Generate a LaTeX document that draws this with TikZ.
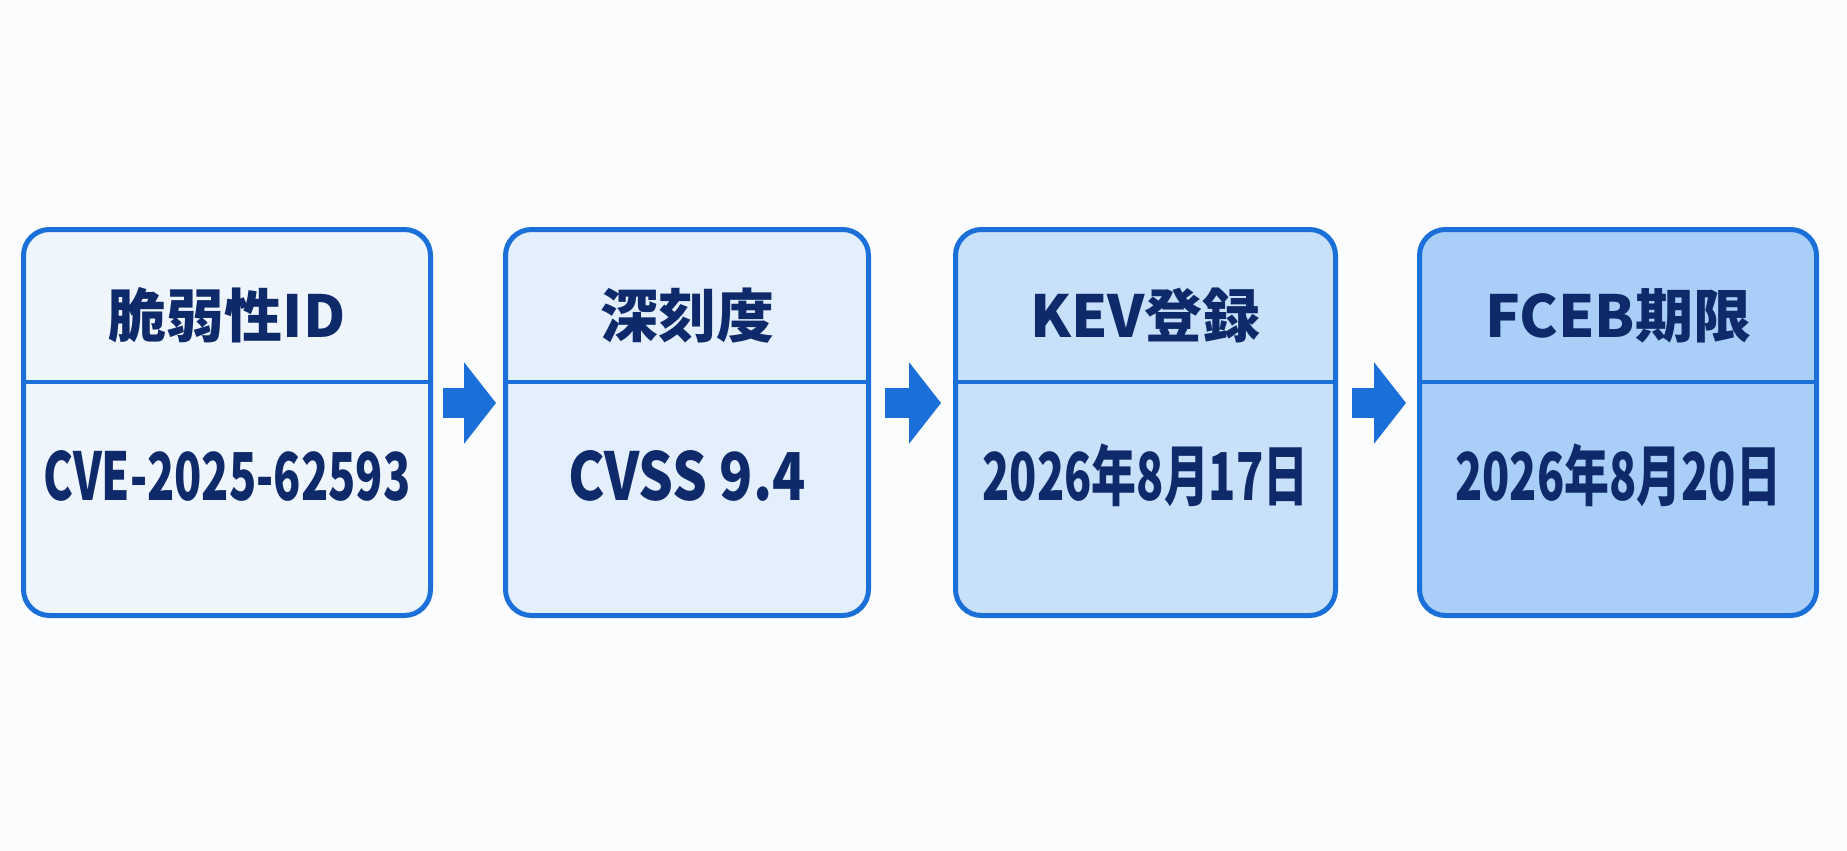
\documentclass[tikz,border=0pt]{standalone}
\usepackage{fontspec}
\setmainfont{Noto Sans CJK JP}
\newfontfamily\valfont{Noto Sans CJK JP}[FakeStretch=0.68]
\newfontfamily\valfontw{Noto Sans CJK JP}[FakeStretch=0.83]
\usetikzlibrary{arrows.meta}
\definecolor{bg}{HTML}{FBFCFE}
\definecolor{edge}{HTML}{1A6FD8}
\definecolor{ink}{HTML}{0F2A6A}
\definecolor{fa}{HTML}{EEF5FD}
\definecolor{fb}{HTML}{E3EFFC}
\definecolor{fc}{HTML}{C8E0FA}
\definecolor{fd}{HTML}{A9CFF8}
\begin{document}
\begin{tikzpicture}[x=1pt,y=-1pt,
  card/.style={draw=edge, line width=5pt, rounded corners=26pt, minimum height=386pt, inner sep=0pt},
  divider/.style={draw=edge, line width=4pt},
  head/.style={text=ink, font=\bfseries\fontsize{58}{60}\selectfont, anchor=base, inner sep=0pt},
  val/.style={text=ink, font=\valfont\bfseries\fontsize{66}{70}\selectfont, anchor=base, inner sep=0pt},
  valw/.style={val, font=\valfontw\bfseries\fontsize{66}{70}\selectfont},
  flow/.style={draw=edge, line width=30pt, -{Triangle[length=32pt,width=80pt]}}]
\fill[bg] (0,0) rectangle (1847,851);
\useasboundingbox (0,0) rectangle (1847,851);
% cards
\node[card, fill=fa, minimum width=407pt] (b1) at (227,422.5) {};
\node[card, fill=fb, minimum width=363pt] (b2) at (687,422.5) {};
\node[card, fill=fc, minimum width=380pt] (b3) at (1145.5,422.5) {};
\node[card, fill=fd, minimum width=397pt] (b4) at (1618,422.5) {};
% dividers
\draw[divider] (b1.west |- 0,382) -- (b1.east |- 0,382);
\draw[divider] (b2.west |- 0,382) -- (b2.east |- 0,382);
\draw[divider] (b3.west |- 0,382) -- (b3.east |- 0,382);
\draw[divider] (b4.west |- 0,382) -- (b4.east |- 0,382);
% titles
\node[head] (t1) at (b1.center |- 0,337) {脆弱性ID};
\node[head] (t2) at (b2.center |- 0,337) {深刻度};
\node[head] (t3) at (b3.center |- 0,337) {KEV登録};
\node[head] (t4) at (b4.center |- 0,337) {FCEB期限};
% values
\node[val] (v1) at (b1.center |- 0,500) {CVE-2025-62593};
\node[valw] (v2) at (b2.center |- 0,500) {CVSS 9.4};
\node[val] (v3) at (b3.center |- 0,500) {2026年8月17日};
\node[val] (v4) at (b4.center |- 0,500) {2026年8月20日};
% arrows
\draw[flow] ([xshift=10pt,yshift=19.5pt]b1.east) -- ([xshift=-7pt,yshift=19.5pt]b2.west);
\draw[flow] ([xshift=14pt,yshift=19.5pt]b2.east) -- ([xshift=-12pt,yshift=19.5pt]b3.west);
\draw[flow] ([xshift=14pt,yshift=19.5pt]b3.east) -- ([xshift=-11pt,yshift=19.5pt]b4.west);
\end{tikzpicture}
\end{document}
